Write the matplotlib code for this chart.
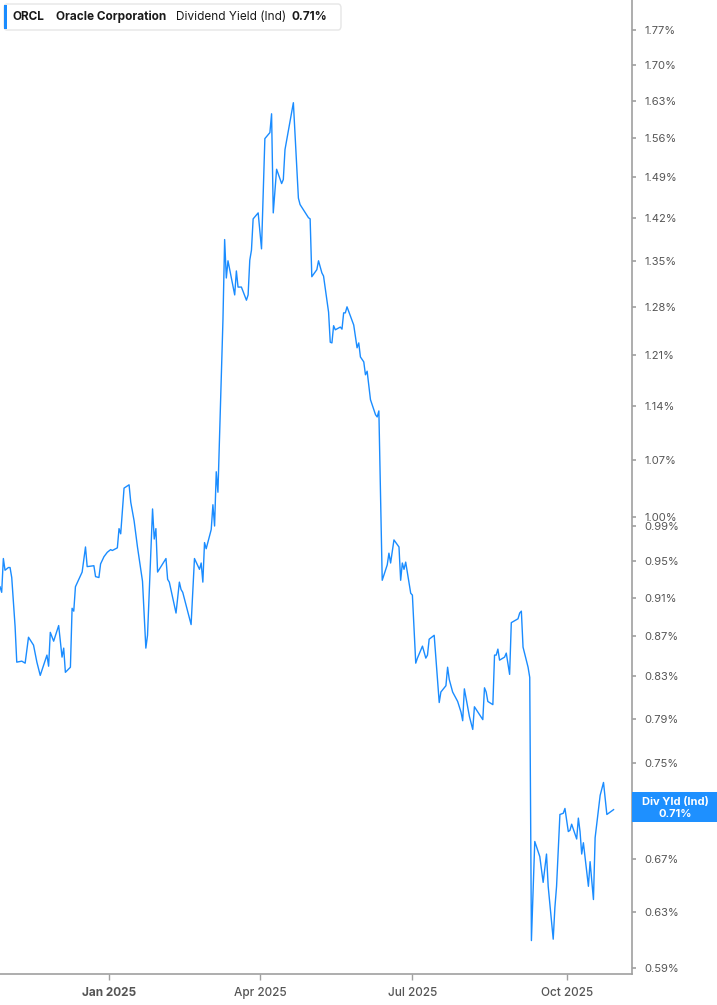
import numpy as np
import pandas as pd
import matplotlib
matplotlib.use("Agg")
import matplotlib.pyplot as plt
from matplotlib.patches import FancyBboxPatch, Rectangle
from matplotlib.ticker import FixedLocator, NullLocator

plt.rcParams['font.family'] = ['Inter', 'DejaVu Sans']

# ORCL dividend yield (%)
dates = [
    "2024-10-28", "2024-10-29", "2024-10-30", "2024-10-31", "2024-11-02", "2024-11-03",
    "2024-11-04", "2024-11-06", "2024-11-07", "2024-11-10", "2024-11-12", "2024-11-14",
    "2024-11-17", "2024-11-19", "2024-11-21", "2024-11-23", "2024-11-25", "2024-11-26",
    "2024-11-27", "2024-11-29", "2024-12-02", "2024-12-04", "2024-12-05", "2024-12-06",
    "2024-12-09", "2024-12-10", "2024-12-11", "2024-12-12", "2024-12-16", "2024-12-18",
    "2024-12-19", "2024-12-23", "2024-12-24", "2024-12-26", "2024-12-27", "2024-12-29",
    "2024-12-31", "2025-01-02", "2025-01-03", "2025-01-06", "2025-01-07", "2025-01-08",
    "2025-01-10", "2025-01-13", "2025-01-14", "2025-01-16", "2025-01-18", "2025-01-21",
    "2025-01-23", "2025-01-24", "2025-01-27", "2025-01-28", "2025-01-29", "2025-01-30",
    "2025-02-04", "2025-02-05", "2025-02-06", "2025-02-10", "2025-02-12", "2025-02-13",
    "2025-02-14", "2025-02-19", "2025-02-21", "2025-02-24", "2025-02-25", "2025-02-26",
    "2025-02-27", "2025-02-28", "2025-03-03", "2025-03-04", "2025-03-05", "2025-03-06",
    "2025-03-07", "2025-03-10", "2025-03-11", "2025-03-12", "2025-03-13", "2025-03-17",
    "2025-03-18", "2025-03-19", "2025-03-21", "2025-03-24", "2025-03-25", "2025-03-26",
    "2025-03-27", "2025-03-28", "2025-03-31", "2025-04-02", "2025-04-04", "2025-04-07",
    "2025-04-08", "2025-04-09", "2025-04-11", "2025-04-14", "2025-04-15", "2025-04-16",
    "2025-04-21", "2025-04-24", "2025-04-25", "2025-04-30", "2025-05-01", "2025-05-02",
    "2025-05-05", "2025-05-06", "2025-05-08", "2025-05-09", "2025-05-12", "2025-05-13",
    "2025-05-14", "2025-05-15", "2025-05-16", "2025-05-19", "2025-05-20", "2025-05-21",
    "2025-05-22", "2025-05-23", "2025-05-27", "2025-05-29", "2025-05-30", "2025-05-31",
    "2025-06-02", "2025-06-03", "2025-06-04", "2025-06-06", "2025-06-09", "2025-06-10",
    "2025-06-11", "2025-06-13", "2025-06-16", "2025-06-17", "2025-06-18", "2025-06-20",
    "2025-06-23", "2025-06-24", "2025-06-25", "2025-06-26", "2025-06-27", "2025-06-30",
    "2025-07-01", "2025-07-03", "2025-07-04", "2025-07-07", "2025-07-09", "2025-07-10",
    "2025-07-11", "2025-07-14", "2025-07-17", "2025-07-18", "2025-07-21", "2025-07-22",
    "2025-07-23", "2025-07-25", "2025-07-28", "2025-07-30", "2025-07-31", "2025-08-01",
    "2025-08-04", "2025-08-06", "2025-08-07", "2025-08-12", "2025-08-13", "2025-08-14",
    "2025-08-15", "2025-08-18", "2025-08-19", "2025-08-20", "2025-08-21", "2025-08-22",
    "2025-08-25", "2025-08-26", "2025-08-28", "2025-08-29", "2025-09-02", "2025-09-03",
    "2025-09-04", "2025-09-05", "2025-09-08", "2025-09-09", "2025-09-10", "2025-09-12",
    "2025-09-15", "2025-09-17", "2025-09-19", "2025-09-20", "2025-09-23", "2025-09-24",
    "2025-09-25", "2025-09-27", "2025-09-29", "2025-09-30", "2025-10-02", "2025-10-03",
    "2025-10-04", "2025-10-07", "2025-10-08", "2025-10-09", "2025-10-10", "2025-10-11",
    "2025-10-14", "2025-10-15", "2025-10-17", "2025-10-18", "2025-10-21", "2025-10-23",
    "2025-10-25", "2025-10-29",
]
div_yield = [
    0.922, 0.916, 0.953, 0.940, 0.943, 0.943,
    0.932, 0.880, 0.844, 0.845, 0.843, 0.869,
    0.861, 0.844, 0.831, 0.841, 0.851, 0.840,
    0.874, 0.865, 0.881, 0.849, 0.858, 0.834,
    0.839, 0.899, 0.896, 0.922, 0.938, 0.966,
    0.944, 0.945, 0.933, 0.932, 0.947, 0.955,
    0.960, 0.963, 0.962, 0.965, 0.987, 0.981,
    1.035, 1.039, 1.018, 0.996, 0.966, 0.928,
    0.858, 0.871, 1.010, 0.975, 0.987, 0.938,
    0.953, 0.930, 0.927, 0.894, 0.927, 0.919,
    0.916, 0.882, 0.953, 0.941, 0.948, 0.927,
    0.971, 0.964, 0.986, 1.015, 0.990, 1.055,
    1.030, 1.261, 1.385, 1.324, 1.351, 1.298,
    1.335, 1.310, 1.310, 1.290, 1.298, 1.352,
    1.368, 1.419, 1.429, 1.370, 1.559, 1.570,
    1.605, 1.429, 1.504, 1.479, 1.486, 1.539,
    1.626, 1.454, 1.443, 1.421, 1.419, 1.326,
    1.337, 1.351, 1.332, 1.327, 1.272, 1.228,
    1.227, 1.252, 1.246, 1.250, 1.247, 1.271,
    1.271, 1.280, 1.253, 1.220, 1.227, 1.207,
    1.200, 1.182, 1.187, 1.148, 1.128, 1.125,
    1.133, 0.929, 0.946, 0.959, 0.948, 0.974,
    0.966, 0.929, 0.948, 0.941, 0.949, 0.915,
    0.913, 0.843, 0.848, 0.860, 0.848, 0.851,
    0.867, 0.871, 0.805, 0.815, 0.821, 0.839,
    0.827, 0.815, 0.806, 0.796, 0.788, 0.818,
    0.792, 0.780, 0.801, 0.789, 0.819, 0.815,
    0.806, 0.803, 0.851, 0.851, 0.857, 0.846,
    0.849, 0.853, 0.832, 0.884, 0.888, 0.894,
    0.896, 0.859, 0.839, 0.829, 0.609, 0.684,
    0.672, 0.652, 0.674, 0.649, 0.610, 0.633,
    0.649, 0.706, 0.707, 0.711, 0.692, 0.693,
    0.698, 0.686, 0.703, 0.692, 0.674, 0.683,
    0.649, 0.668, 0.639, 0.687, 0.722, 0.733,
    0.706, 0.710,
]

y_ticks = [1.77, 1.70, 1.63, 1.56, 1.49, 1.42, 1.35, 1.28, 1.21, 1.14, 1.07, 1.00,
           0.99, 0.95, 0.91, 0.87, 0.83, 0.79, 0.75, 0.71, 0.67, 0.63, 0.59]
x_ticks = ["2025-01-01", "2025-04-01", "2025-07-01", "2025-10-01"]
x_labels = ["Jan 2025", "Apr 2025", "Jul 2025", "Oct 2025"]
last_value = 0.71

line_color = '#1a8cff'
axis_color = '#a0a0a0'
label_color = '#555555'

W, H = 717, 1005
fig = plt.figure(figsize=(W / 100, H / 100), dpi=100)
ax = fig.add_axes([0, 31 / H, 632 / W, 1 - 31 / H])

x = pd.to_datetime(dates)
ax.plot(x, div_yield, color=line_color, linewidth=1.0)

ax.set_yscale('log')
ax.set_ylim(0.5856, 1.834)
ax.set_xlim(pd.Timestamp("2024-10-28"), pd.Timestamp("2025-11-09"))

ax.yaxis.set_major_locator(FixedLocator(y_ticks))
ax.yaxis.set_minor_locator(NullLocator())
ax.set_yticks(y_ticks)
# the 0.71% label sits under the value tag, so only its tick mark shows
ax.set_yticklabels(['' if v == last_value else f'{v:.2f}%' for v in y_ticks])
ax.yaxis.tick_right()
ax.tick_params(axis='y', which='both', direction='out', length=3, width=1.2,
               color=axis_color, labelcolor=label_color, labelsize=8, pad=6)

ax.set_xticks(pd.to_datetime(x_ticks))
ax.set_xticklabels(x_labels)
ax.xaxis.set_minor_locator(NullLocator())
ax.tick_params(axis='x', direction='out', length=4, width=1,
               color=axis_color, labelcolor=label_color, labelsize=8.5, pad=5)
ax.get_xticklabels()[0].set_fontweight('bold')
for lbl in ax.get_xticklabels()[1:]:
    lbl.set_fontweight('medium')

for side in ['left', 'top']:
    ax.spines[side].set_visible(False)
for side in ['right', 'bottom']:
    ax.spines[side].set_color(axis_color)
    ax.spines[side].set_linewidth(1.2)

# value tag on the right axis
ax_y = ax.transData.transform((0, last_value))[1]
tag_h = 30
fig.patches.append(Rectangle((632 / W, (ax_y - tag_h / 2 + 3) / H), 85 / W, tag_h / H,
                             transform=fig.transFigure, facecolor='#1e90ff',
                             edgecolor='none', zorder=5))
fig.text(675 / W, (ax_y + 8) / H, 'Div Yld (Ind)', color='white', fontsize=8,
         fontweight='bold', ha='center', va='center', zorder=6)
fig.text(675 / W, (ax_y - 4) / H, f'{last_value:.2f}%', color='white', fontsize=8,
         fontweight='bold', ha='center', va='center', zorder=6)

# legend box at the top left
fig.patches.append(FancyBboxPatch((4 / W, (H - 30) / H), 337 / W, 26 / H,
                                  boxstyle='round,pad=0,rounding_size=0.004',
                                  transform=fig.transFigure, facecolor='white',
                                  edgecolor='#e6e6e6', linewidth=1, zorder=5))
fig.patches.append(Rectangle((4 / W, (H - 29) / H), 3 / W, 24 / H,
                             transform=fig.transFigure, facecolor=line_color,
                             edgecolor='none', zorder=6))
ty = (H - 17) / H
fig.text(13 / W, ty, 'ORCL', fontsize=8.5, fontweight='bold', color='#1a1a1a',
         va='center', zorder=7)
fig.text(56 / W, ty, 'Oracle Corporation', fontsize=8.5, fontweight='bold',
         color='#1a1a1a', va='center', zorder=7)
fig.text(176 / W, ty, 'Dividend Yield (Ind)', fontsize=8.5, color='#1a1a1a',
         va='center', zorder=7)
fig.text(292 / W, ty, f'{last_value:.2f}%', fontsize=8.5, fontweight='bold',
         color='#1a1a1a', va='center', zorder=7)

fig.savefig('out.png', dpi=100)
